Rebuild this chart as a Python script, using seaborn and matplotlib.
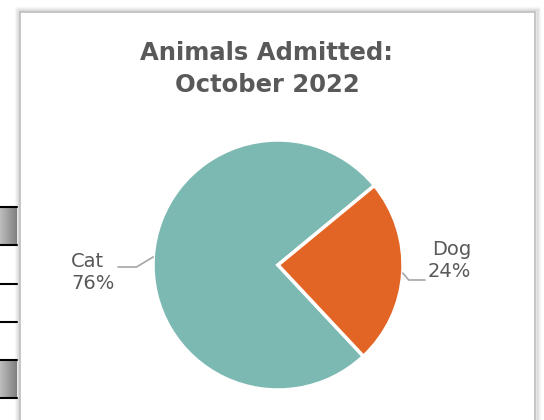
import numpy as np
import matplotlib
matplotlib.use("Agg")
import matplotlib.pyplot as plt
import seaborn as sns
from matplotlib.patches import Rectangle

categories = ["Cat", "Dog"]
percentages = [76, 24]
colors = ["#7DB9B3", "#E36526"]
title = "Animals Admitted:\nOctober 2022"

sns.set_theme(style="white")
plt.rcParams['font.family'] = ['DejaVu Sans']

W, H = 544, 420
fig = plt.figure(figsize=(W / 100, H / 100), dpi=100)
fig.patch.set_facecolor("white")

def fx(px):
    return px / W

def fy(py):
    return 1 - py / H

# screenshot frame / shadow
bg = fig.add_axes([0, 0, 1, 1])
bg.set_xlim(0, W)
bg.set_ylim(H, 0)
bg.axis("off")
for i, a in enumerate([0.05, 0.08, 0.12, 0.18]):
    bg.add_patch(Rectangle((20 - 4 + i, 12 - 4 + i), 520 - 2 * i + 4, 420, facecolor="none",
                           edgecolor=(0.5, 0.5, 0.5, a), lw=1.5))
bg.add_patch(Rectangle((20, 12), 515, 420, facecolor="white", edgecolor="#bdbdbd", lw=1.2))
# spreadsheet cells peeking at the left
for y0, y1, shade in [(207, 245, True), (245, 284, False), (284, 322, False), (322, 360, False), (360, 398, True)]:
    if shade:
        grad = np.linspace(0.74, 0.50, 30).reshape(1, -1)
        bg.imshow(grad, extent=(0, 17, y1, y0), cmap="gray", vmin=0, vmax=1, aspect="auto", zorder=2)
for y in [207, 245, 284, 322, 360, 398]:
    bg.plot([0, 17], [y, y], color="black", lw=1.5, zorder=3)
bg.set_xlim(0, W)
bg.set_ylim(H, 0)

# pie
cx, cy, r = 278, 265, 125
ax = fig.add_axes([fx(cx - r), fy(cy + r), 2 * r / W, 2 * r / H])
wedges, _ = ax.pie(percentages, colors=colors, startangle=39.5, counterclock=True,
                   wedgeprops=dict(edgecolor="white", linewidth=2.5))
ax.set_xlim(-1, 1)
ax.set_ylim(-1, 1)
ax.set_aspect("auto")
ax.axis("off")

txt_color = "#595959"
line_color = "#A6A6A6"

# Cat label
w = wedges[0]
mid = np.deg2rad((w.theta1 + w.theta2) / 2)
edge = (np.cos(mid), np.sin(mid))
ax.annotate("", xy=edge, xytext=(-1.28, -0.016),
            arrowprops=dict(arrowstyle="-", color=line_color, lw=1.2,
                            connectionstyle="angle,angleA=0,angleB=31", shrinkA=0, shrinkB=0),
            annotation_clip=False)
ax.text(-1.31, -0.06, f"{categories[0]}\n{percentages[0]}%", ha="right", va="center",
        fontsize=14, color=txt_color, linespacing=1.2, multialignment="left")

# Dog label
w = wedges[1]
mid = np.deg2rad((w.theta1 + w.theta2) / 2)
edge = (np.cos(mid), np.sin(mid))
ax.annotate("", xy=edge, xytext=(1.176, -0.12),
            arrowprops=dict(arrowstyle="-", color=line_color, lw=1.2,
                            connectionstyle="angle,angleA=0,angleB=-49", shrinkA=0, shrinkB=0),
            annotation_clip=False)
ax.text(1.2, 0.036, f"{categories[1]}\n{percentages[1]}%", ha="left", va="center",
        fontsize=14, color=txt_color, linespacing=1.2, multialignment="right")

fig.text(fx(267), fy(69), title, ha="center", va="center", fontsize=17.5,
         fontweight="bold", color=txt_color, linespacing=1.45)

fig.savefig("out.png", dpi=100)
